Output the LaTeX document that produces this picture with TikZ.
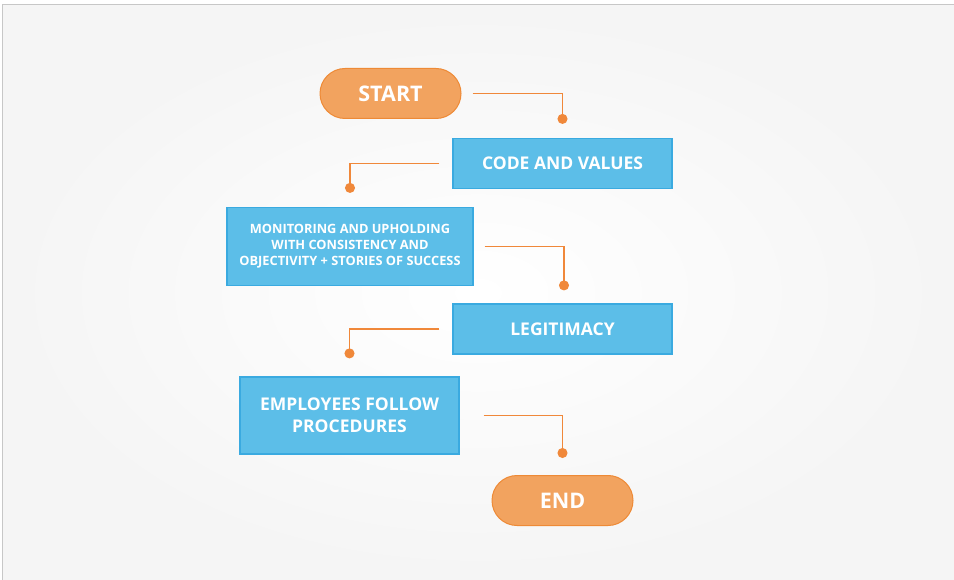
\documentclass[tikz,border=0pt]{standalone}
\usepackage{fontspec}
\setmainfont{Open Sans}
\usetikzlibrary{arrows.meta}

\definecolor{pillfill}{HTML}{F2A35F}
\definecolor{pillline}{HTML}{EE8A36}
\definecolor{boxfill}{HTML}{5CBEE8}
\definecolor{boxline}{HTML}{3AAAE0}
\definecolor{linkcol}{HTML}{F0883A}

\begin{document}
\begin{tikzpicture}[
            x=1pt, y=1pt,
            pill/.style={rounded corners=25pt, fill=pillfill, draw=pillline, line width=1pt,
                minimum width=141pt, minimum height=50pt, text=white, font=\bfseries\fontsize{21.5}{24}\selectfont},
            stepbox/.style={fill=boxfill, draw=boxline, line width=1.2pt, text=white, align=center,
                minimum width=219pt, minimum height=50pt, font=\bfseries\fontsize{17.5}{22}\selectfont},
            link/.style={linkcol, line width=1.1pt, -{Circle[length=10pt]}},
        ]
        % page and frame
        \useasboundingbox (0,0) rectangle (954,-580);
        \fill[white] (0,0) rectangle (954,-580);
        \shade[inner color=white, outer color=black!4] (2,-5) rectangle (954,-580);
        \draw[black!22, line width=1pt] (2,-580) -- (2,-5) -- (954,-5);

        \node[pill] (start) at (390.5,-93.5) {START};
        \node[stepbox] (code) at (562.5,-163.5) {CODE AND VALUES};
        \node[stepbox, minimum width=246pt, minimum height=78pt,
              font=\bfseries\fontsize{12.8}{16}\selectfont] (monitor) at (350,-246.5)
              {MONITORING AND UPHOLDING\\WITH CONSISTENCY AND\\OBJECTIVITY + STORIES OF SUCCESS};
        \node[stepbox] (legit) at (562.5,-329) {LEGITIMACY};
        \node[stepbox, minimum height=77pt] (follow) at (349.5,-415.5) {EMPLOYEES FOLLOW\\PROCEDURES};
        \node[pill] (end) at (562.5,-500.5) {END};

        \draw[link] ([xshift=11pt]start.east) -| ([yshift=14pt]code.north);
        \draw[link] ([xshift=-13pt]code.west) -| ([yshift=14pt]monitor.north);
        \draw[link] ([xshift=11pt]monitor.east) -| ([xshift=1.5pt,yshift=13pt]legit.north);
        \draw[link] ([xshift=-13pt]legit.west) -| ([yshift=18pt]follow.north);
        \draw[link] ([xshift=24pt]follow.east) -| ([yshift=17pt]end.north);
    \end{tikzpicture}
\end{document}
